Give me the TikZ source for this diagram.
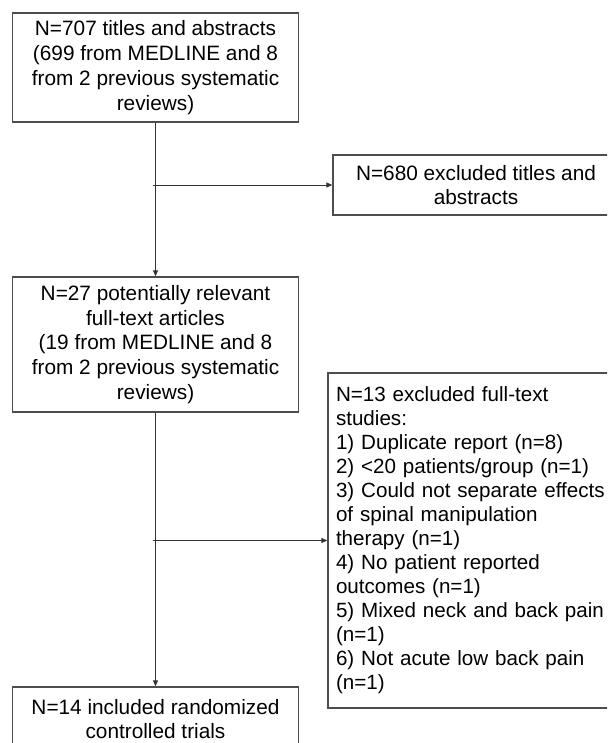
\documentclass[tikz,border=0pt]{standalone}
\usepackage{fontspec}
\setmainfont{Liberation Sans}
\usetikzlibrary{arrows.meta}
\pgfdeclarelayer{edgelayer}
\pgfdeclarelayer{nodelayer}
\pgfsetlayers{edgelayer,nodelayer,main}
\tikzstyle{none} = []
\tikzstyle{Flow Box}=[draw={rgb,255: red,77; green,77; blue,77}, line width=1.3pt, fill=white, shape=rectangle, inner sep=0pt, minimum width=286pt, align=center, font=\fontsize{20.8}{24.8}\selectfont]
\tikzstyle{List Box}=[Flow Box, align=left, text width=270pt, font=\fontsize{20.6}{24}\selectfont]
\tikzstyle{Arrow}=[-{Triangle[length=6pt, width=5pt]}, draw={rgb,255: red,51; green,51; blue,51}, line width=0.9pt]
\begin{document}
\begin{tikzpicture}[x=1pt, y=-1pt]
	\useasboundingbox (0, 0) rectangle (607, 743);
	\begin{pgfonlayer}{nodelayer}
		\clip (0, 0) rectangle (607, 743);
		\node [style=Flow Box, minimum height=109pt] (0) at (155.5, 67.5) {N=707 titles and abstracts\\(699 from MEDLINE and 8\\from 2 previous systematic\\reviews)};
		\node [style=Flow Box, minimum height=60pt] (1) at (476, 185) {N=680 excluded titles and\\abstracts};
		\node [style=Flow Box, minimum height=135pt] (2) at (155.5, 344.5) {N=27 potentially relevant\\full-text articles\\(19 from MEDLINE and 8\\from 2 previous systematic\\reviews)};
		\node [style=List Box, minimum height=335pt] (3) at (471, 540.5) {N=13 excluded full-text\\studies:\\1) Duplicate report (n=8)\\2) <20 patients/group (n=1)\\3) Could not separate effects\\of spinal manipulation\\therapy (n=1)\\4) No patient reported\\outcomes (n=1)\\5) Mixed neck and back pain\\(n=1)\\6) Not acute low back pain\\(n=1)};
		\node [style=Flow Box, minimum height=64pt] (4) at (155.5, 719) {N=14 included randomized\\controlled trials};
		\coordinate (5) at (152.5, 185);
		\coordinate (6) at (152.5, 540.5);
	\end{pgfonlayer}
	\begin{pgfonlayer}{edgelayer}
		\clip (0, 0) rectangle (607, 743);
		\draw [style=Arrow] (0) to (2);
		\draw [style=Arrow] (5) to (1);
		\draw [style=Arrow] (2) to (4);
		\draw [style=Arrow] (6) to (3);
	\end{pgfonlayer}
\end{tikzpicture}
\end{document}
